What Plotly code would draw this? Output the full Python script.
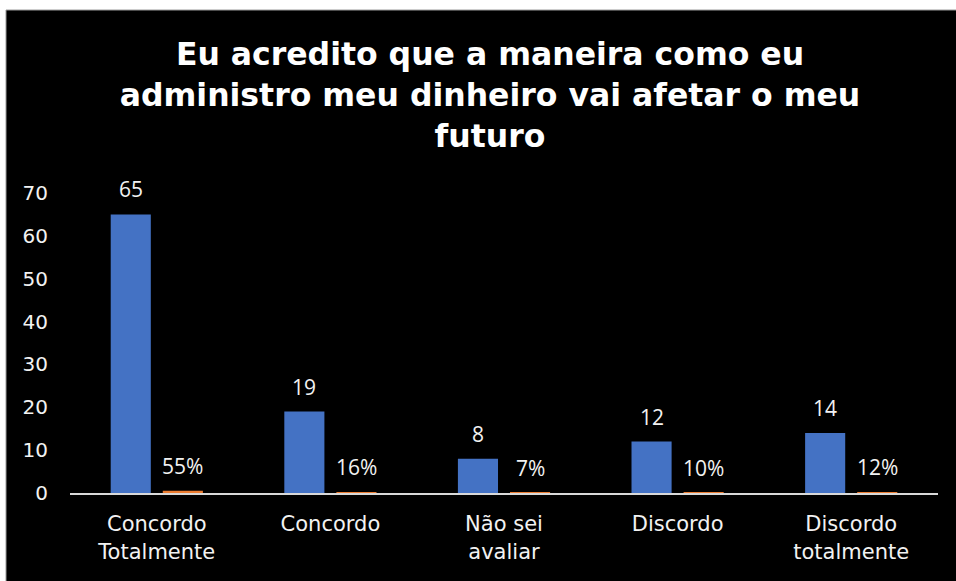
import plotly.graph_objects as go

# Survey answers
categorias = ["Concordo<br>Totalmente", "Concordo", "Não sei<br>avaliar", "Discordo", "Discordo<br>totalmente"]
respostas = [65, 19, 8, 12, 14]
percentuais = [0.55, 0.16, 0.07, 0.10, 0.12]
rotulos_pct = ["55%", "16%", "7%", "10%", "12%"]
y_ticks = [0, 10, 20, 30, 40, 50, 60, 70]

AZUL = "#4472C4"
LARANJA = "#ED7D31"
TEXTO = "#f2f2f2"

fig = go.Figure()
fig.add_trace(go.Bar(x=categorias, y=respostas, name="Respostas",
                     marker=dict(color=AZUL, line=dict(width=0))))
fig.add_trace(go.Bar(x=categorias, y=percentuais, name="Percentual",
                     marker=dict(color=LARANJA, line=dict(width=0))))

# value labels over each bar of the group
label_font = dict(family="Open Sans", size=21, color=TEXTO)
annotations = []
for cat, v in zip(categorias, respostas):
    annotations.append(dict(x=cat, y=v, xref="x", yref="y", text=str(v),
                            showarrow=False, xshift=-26, yshift=25, font=label_font))
for cat, v, t in zip(categorias, percentuais, rotulos_pct):
    annotations.append(dict(x=cat, y=v, xref="x", yref="y", text=t,
                            showarrow=False, xshift=26, yshift=25, font=label_font))

L, R, T, B = 70, 18, 193, 88
W, H = 956 - L - R, 581 - T - B

fig.update_layout(
    width=956, height=581,
    margin=dict(l=L, r=R, t=T, b=B, pad=0),
    paper_bgcolor="white",
    plot_bgcolor="black",
    barmode="group",
    bargap=0.4,
    bargroupgap=0.23,
    showlegend=False,
    title=dict(
        text="<b>Eu acredito que a maneira como eu<br>administro meu dinheiro vai afetar o meu<br>futuro</b>",
        x=490 / 956, xanchor="center",
        y=1 - 65 / 581, yanchor="top",
        font=dict(family="DejaVu Sans", size=31.5, color="white"),
    ),
    xaxis=dict(
        showgrid=False, zeroline=False,
        showline=True, linecolor="#d9d9d9", linewidth=2,
        ticks="", ticklabelstandoff=11,
        tickfont=dict(family="DejaVu Sans", size=21, color=TEXTO),
    ),
    yaxis=dict(
        range=[0, 70], tickvals=y_ticks, showgrid=False, zeroline=False,
        showline=False, ticks="", ticklabelstandoff=21,
        tickfont=dict(family="DejaVu Sans", size=20, color=TEXTO),
    ),
    annotations=annotations,
    shapes=[dict(type="rect", xref="paper", yref="paper", layer="below",
                 x0=(6 - L) / W, x1=(956 - L) / W + 0.01,
                 y0=-(B + 5) / H, y1=(H + T - 10) / H,
                 fillcolor="black", line=dict(color="#9a9a9a", width=1))],
)

fig.write_html("out.html")
